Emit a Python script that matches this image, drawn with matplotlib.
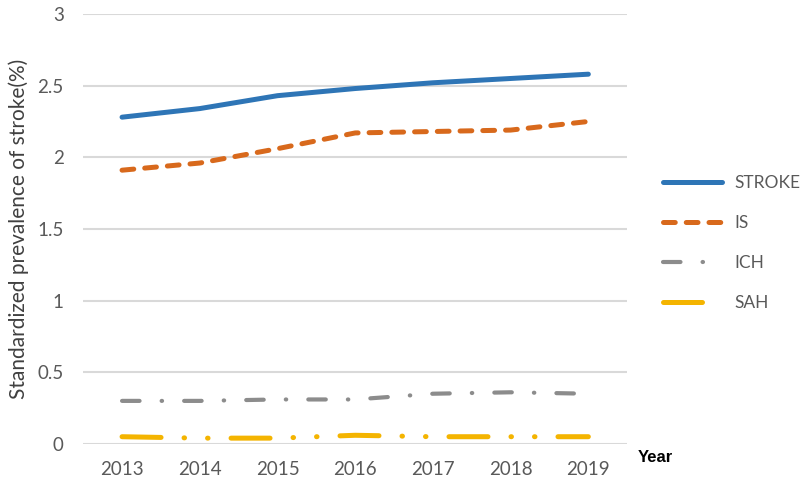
import matplotlib.pyplot as plt

# Data
years = ["2013", "2014", "2015", "2016", "2017", "2018", "2019"]
stroke = [2.28, 2.34, 2.43, 2.48, 2.52, 2.55, 2.58]
is_vals = [1.91, 1.96, 2.06, 2.17, 2.18, 2.19, 2.25]
ich = [0.30, 0.30, 0.31, 0.31, 0.35, 0.36, 0.35]
sah = [0.05, 0.04, 0.04, 0.06, 0.05, 0.05, 0.05]
y_ticks = [0, 0.5, 1, 1.5, 2, 2.5, 3]
y_ticklabels = ["0", "0.5", "1", "1.5", "2", "2.5", "3"]

plt.rcParams["font.family"] = ["Lato", "DejaVu Sans"]
grey = "#595959"

fig = plt.figure(figsize=(8, 4.83), dpi=100)
ax = fig.add_axes([0.104, 0.081, 0.68, 0.89])

x = range(len(years))
ax.plot(x, stroke, color="#2E75B6", lw=3.6, solid_capstyle="round", label="STROKE")
ax.plot(x, is_vals, color="#D8691C", lw=3.6, dashes=(2.35, 2.2),
        dash_capstyle="round", label="IS")
ax.plot(x, ich, color="#8C8C8C", lw=3.0, dashes=(4.2, 5.3, 0.1, 5.3),
        dash_capstyle="round", label="ICH")
ax.plot(x, sah, color="#F4B400", lw=3.6, dashes=(7.8, 4.6, 0.1, 4.6, 0.1, 4.6),
        dash_capstyle="round", label="SAH")

ax.set_xlim(-0.5, len(years) - 0.5)
ax.set_ylim(0, 3)
ax.set_xticks(list(x))
ax.set_xticklabels(years)
ax.set_yticks(y_ticks)
ax.set_yticklabels(y_ticklabels)
ax.tick_params(axis="both", length=0, labelsize=13.5, colors=grey)
ax.tick_params(axis="y", pad=14)
ax.tick_params(axis="x", pad=12)
ax.grid(axis="y", color="#D9D9D9", lw=1.5)
ax.set_axisbelow(True)
for s in ax.spines.values():
    s.set_visible(False)

ax.set_ylabel("Standardized prevalence of stroke(%)", fontsize=15, color="#404040", labelpad=6)
fig.text(0.797, 0.052, "Year", fontsize=12, fontweight="bold", color="black",
         family="Liberation Sans", ha="left", va="center")

ax.legend(loc="center left", bbox_to_anchor=(1.066, 0.467), frameon=False,
          fontsize=12.5, handlelength=3.4, handletextpad=0.7, labelspacing=1.39,
          borderpad=0, borderaxespad=0, labelcolor=grey)

fig.savefig("out.png", dpi=100)
